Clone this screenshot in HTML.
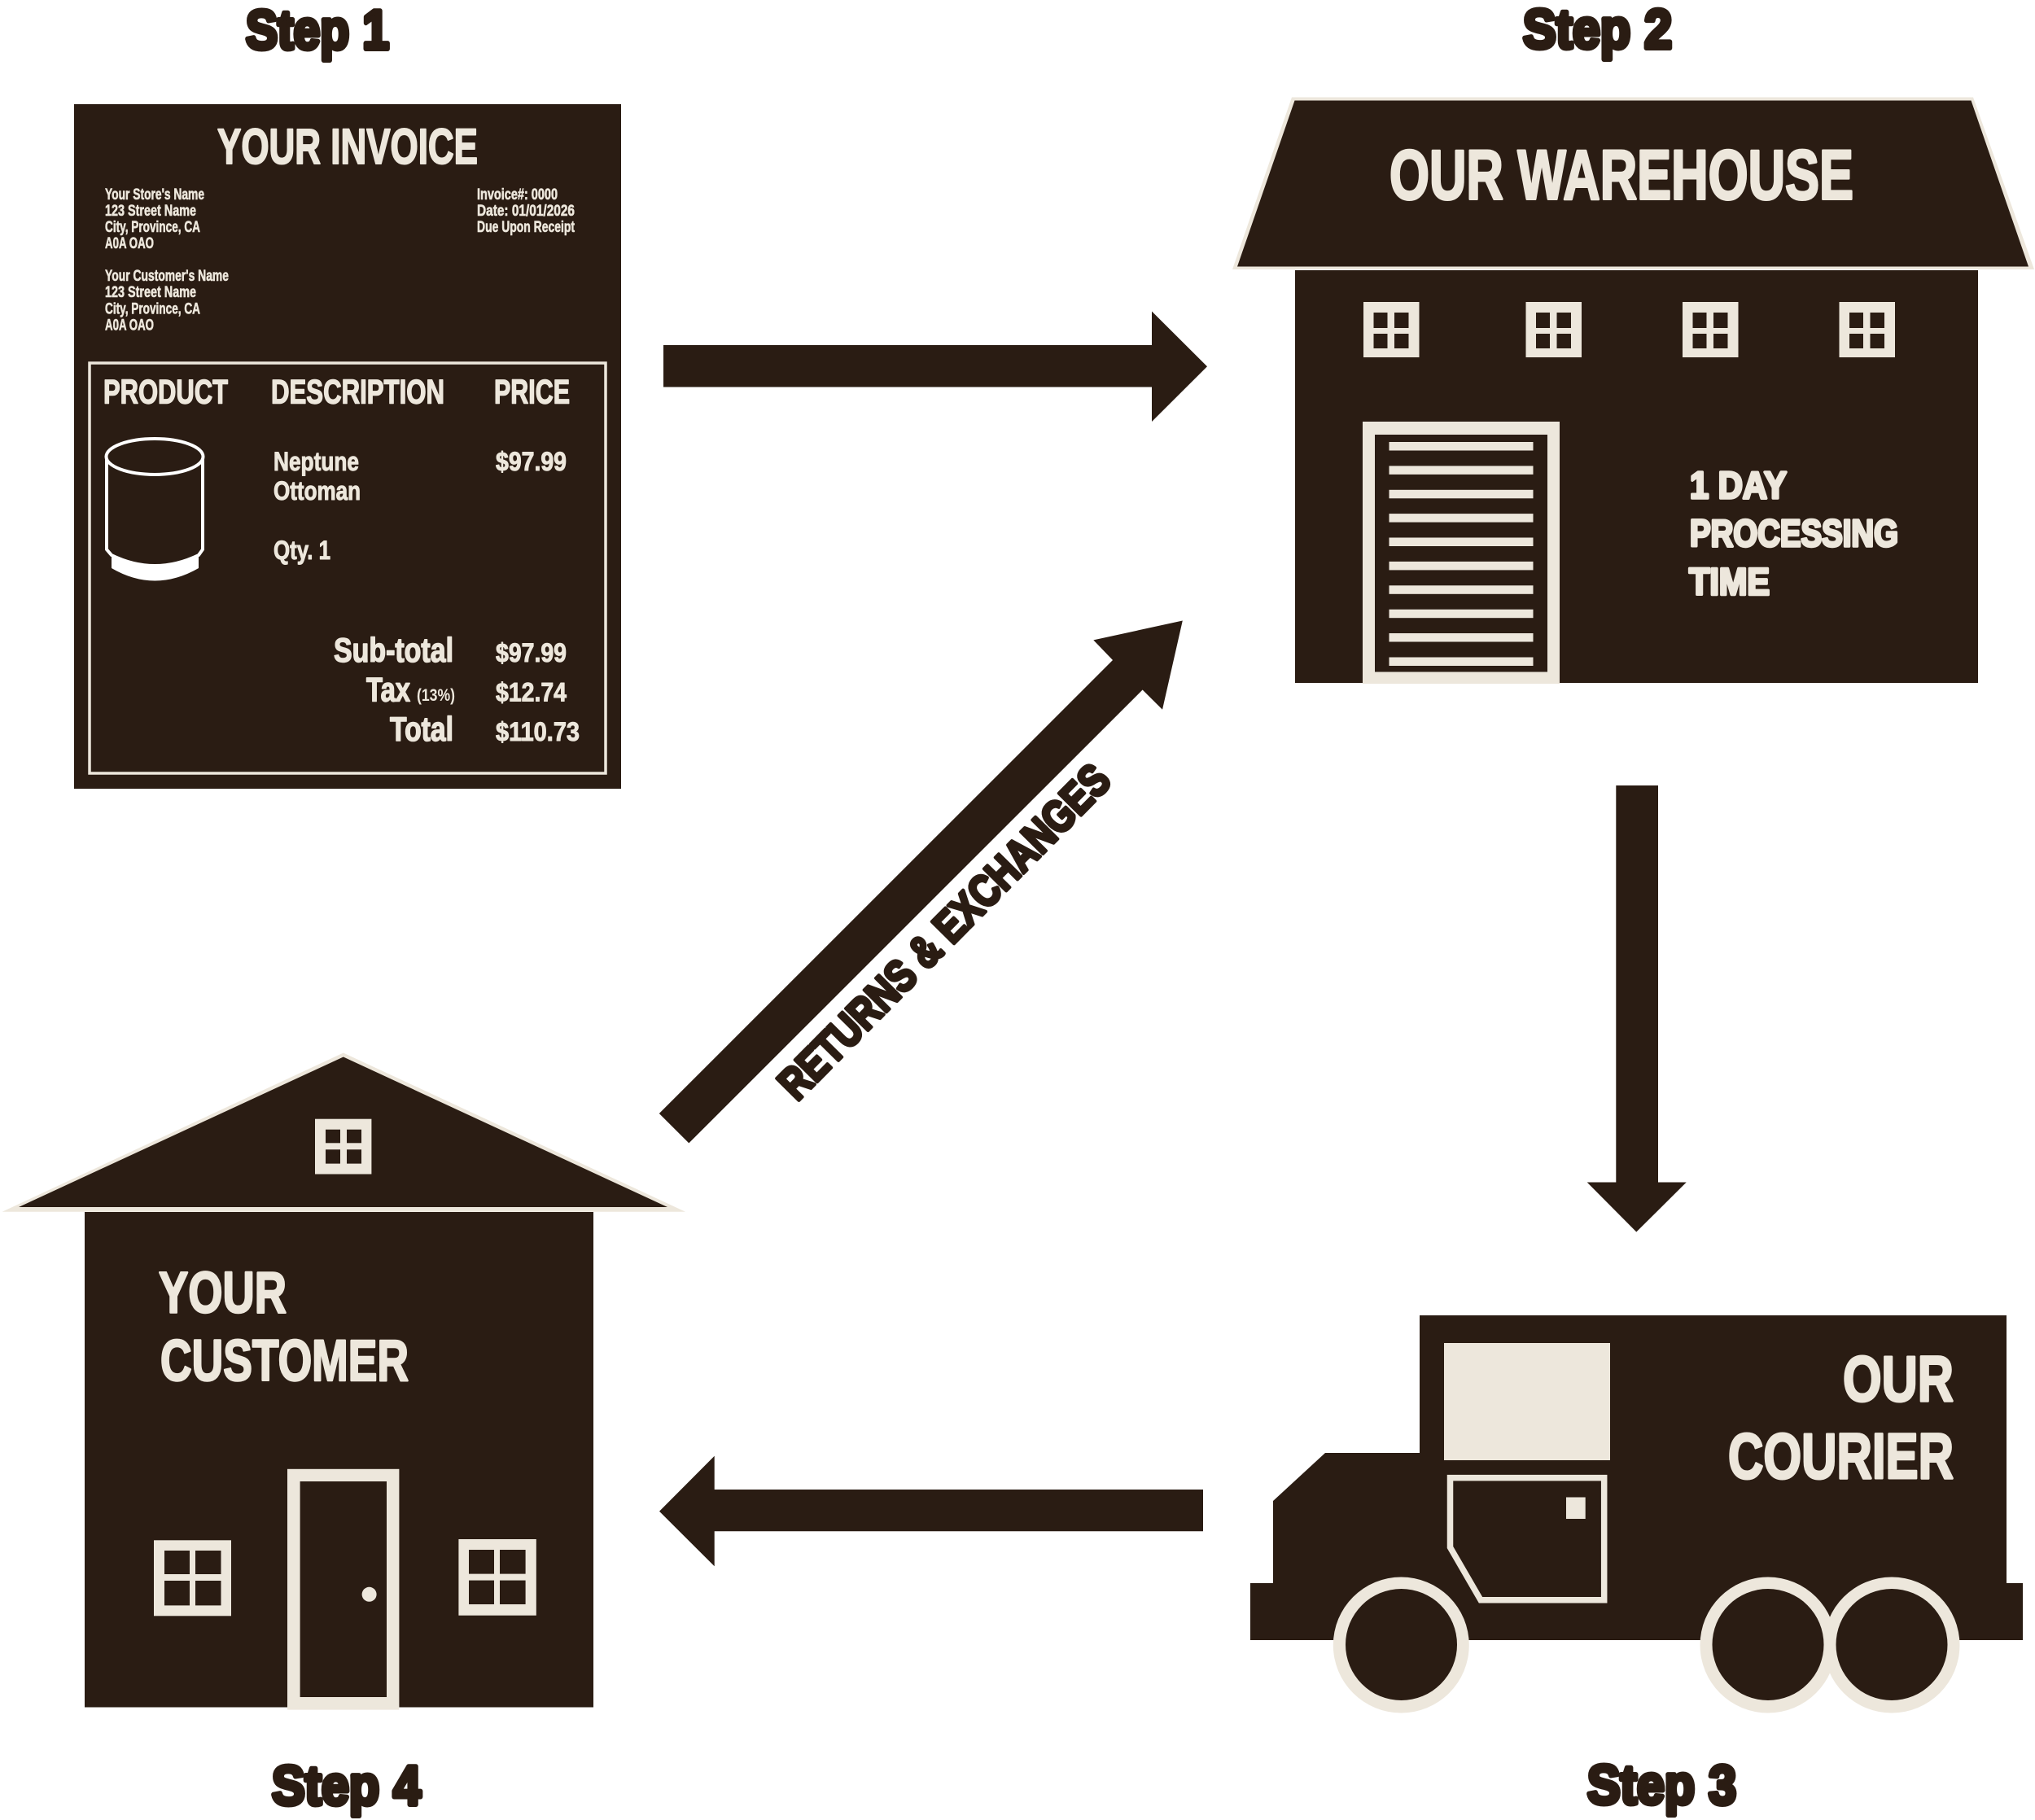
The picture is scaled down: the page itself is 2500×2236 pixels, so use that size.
<!DOCTYPE html>
<html>
<head>
<meta charset="utf-8">
<title>Order process diagram</title>
<style>
html,body{margin:0;padding:0;background:#fff;}
svg{display:block;}
text{font-family:"Liberation Sans",sans-serif;font-weight:700;}
.c{fill:#ede7dc;}
.d{fill:#2a1c13;}
.s{fill:#2a1c13;stroke:#2a1c13;stroke-width:6;stroke-linejoin:round;}
.t{fill:#ede7dc;stroke:#ede7dc;stroke-linejoin:round;}
</style>
</head>
<body>
<svg xmlns="http://www.w3.org/2000/svg" width="2500" height="2236" viewBox="0 0 2500 2236">
<rect width="2500" height="2236" fill="#fff"/>

<!-- Step labels -->
<text class="s" x="302" y="60" font-size="68" textLength="176" lengthAdjust="spacingAndGlyphs">Step 1</text>
<text class="s" x="1871" y="59" font-size="68" textLength="183" lengthAdjust="spacingAndGlyphs">Step 2</text>
<text class="s" x="1950" y="2216" font-size="68" textLength="183" lengthAdjust="spacingAndGlyphs">Step 3</text>
<text class="s" x="334" y="2217" font-size="68" textLength="183" lengthAdjust="spacingAndGlyphs">Step 4</text>

<!-- Invoice -->
<rect class="d" x="91" y="128" width="672" height="841"/>
<rect x="110" y="446" width="634" height="504" fill="none" stroke="#ede7dc" stroke-width="3.5"/>
<text class="t" stroke-width="2" x="267" y="201" font-size="61" textLength="320" lengthAdjust="spacingAndGlyphs">YOUR INVOICE</text>
<g class="t" stroke-width="0.6" font-size="19">
<text x="129" y="245" textLength="122" lengthAdjust="spacingAndGlyphs">Your Store's Name</text>
<text x="129" y="265" textLength="112" lengthAdjust="spacingAndGlyphs">123 Street Name</text>
<text x="129" y="285" textLength="117" lengthAdjust="spacingAndGlyphs">City, Province, CA</text>
<text x="129" y="305" textLength="60" lengthAdjust="spacingAndGlyphs">A0A OAO</text>
<text x="129" y="345" textLength="152" lengthAdjust="spacingAndGlyphs">Your Customer's Name</text>
<text x="129" y="365" textLength="112" lengthAdjust="spacingAndGlyphs">123 Street Name</text>
<text x="129" y="385.500" textLength="117" lengthAdjust="spacingAndGlyphs">City, Province, CA</text>
<text x="129" y="405.500" textLength="60" lengthAdjust="spacingAndGlyphs">A0A OAO</text>
<text x="586" y="245" textLength="99" lengthAdjust="spacingAndGlyphs">Invoice#: 0000</text>
<text x="586" y="265" textLength="120" lengthAdjust="spacingAndGlyphs">Date: 01/01/2026</text>
<text x="586" y="285" textLength="120" lengthAdjust="spacingAndGlyphs">Due Upon Receipt</text>
</g>
<g class="t" stroke-width="1.5" font-size="42">
<text x="127" y="495.500" textLength="153" lengthAdjust="spacingAndGlyphs">PRODUCT</text>
<text x="333" y="495.500" textLength="213" lengthAdjust="spacingAndGlyphs">DESCRIPTION</text>
<text x="607" y="495.500" textLength="93" lengthAdjust="spacingAndGlyphs">PRICE</text>
<text x="410" y="813" textLength="147" lengthAdjust="spacingAndGlyphs">Sub-total</text>
<text x="450" y="861.500" textLength="54" lengthAdjust="spacingAndGlyphs">Tax</text>
<text x="479" y="910" textLength="78" lengthAdjust="spacingAndGlyphs">Total</text>
</g>
<text class="c" x="512" y="861" font-size="21" textLength="47" lengthAdjust="spacingAndGlyphs">(13%)</text>
<g class="t" stroke-width="1" font-size="32">
<text x="336" y="578" textLength="105" lengthAdjust="spacingAndGlyphs">Neptune</text>
<text x="336" y="614" textLength="107" lengthAdjust="spacingAndGlyphs">Ottoman</text>
<text x="336" y="687" textLength="70" lengthAdjust="spacingAndGlyphs">Qty. 1</text>
<text x="609" y="578" textLength="87" lengthAdjust="spacingAndGlyphs">$97.99</text>
<text x="609" y="813" textLength="87" lengthAdjust="spacingAndGlyphs">$97.99</text>
<text x="609" y="861.500" textLength="87" lengthAdjust="spacingAndGlyphs">$12.74</text>
<text x="609" y="910" textLength="103" lengthAdjust="spacingAndGlyphs">$110.73</text>
</g>
<!-- Ottoman icon -->
<path d="M137 682 L137 698 Q190 729 244 698 L244 682 Q190 706 137 682 Z" fill="#fff"/>
<path d="M131 561 L131 675 L137 682 Q190 708 244 682 L249 675 L249 561" fill="#2a1c13" stroke="#fff" stroke-width="4"/>
<ellipse cx="190" cy="561" rx="59.500" ry="22" fill="#2a1c13" stroke="#fff" stroke-width="4"/>

<!-- Warehouse -->
<polygon class="c" points="1587,119.500 2424,119.500 2499,331 1514,331"/>
<polygon class="d" points="1590.500,123.500 2421.500,123.500 2492,327.500 1520,327.500"/>
<rect class="d" x="1591" y="332" width="839" height="507"/>
<text class="t" stroke-width="3" x="1707" y="244.500" font-size="86" textLength="570" lengthAdjust="spacingAndGlyphs">OUR WAREHOUSE</text>
<!-- warehouse windows -->
<g>
<rect class="c" x="1675" y="371" width="68.500" height="68"/>
<rect class="d" x="1687.500" y="384" width="17" height="19"/><rect class="d" x="1713" y="384" width="17.500" height="19"/>
<rect class="d" x="1687.500" y="410" width="17" height="18"/><rect class="d" x="1713" y="410" width="17.500" height="18"/>
</g>
<g transform="translate(199.500,0)">
<rect class="c" x="1675" y="371" width="68.500" height="68"/>
<rect class="d" x="1687.500" y="384" width="17" height="19"/><rect class="d" x="1713" y="384" width="17.500" height="19"/>
<rect class="d" x="1687.500" y="410" width="17" height="18"/><rect class="d" x="1713" y="410" width="17.500" height="18"/>
</g>
<g transform="translate(392,0)">
<rect class="c" x="1675" y="371" width="68.500" height="68"/>
<rect class="d" x="1687.500" y="384" width="17" height="19"/><rect class="d" x="1713" y="384" width="17.500" height="19"/>
<rect class="d" x="1687.500" y="410" width="17" height="18"/><rect class="d" x="1713" y="410" width="17.500" height="18"/>
</g>
<g transform="translate(584.500,0)">
<rect class="c" x="1675" y="371" width="68.500" height="68"/>
<rect class="d" x="1687.500" y="384" width="17" height="19"/><rect class="d" x="1713" y="384" width="17.500" height="19"/>
<rect class="d" x="1687.500" y="410" width="17" height="18"/><rect class="d" x="1713" y="410" width="17.500" height="18"/>
</g>
<!-- roll door -->
<rect class="c" x="1674" y="518" width="242" height="322"/>
<rect class="d" x="1689" y="534" width="212" height="291.500"/>
<g class="c">
<rect x="1706.500" y="543" width="177" height="10.500"/>
<rect x="1706.500" y="572.400" width="177" height="10.500"/>
<rect x="1706.500" y="601.800" width="177" height="10.500"/>
<rect x="1706.500" y="631.100" width="177" height="10.500"/>
<rect x="1706.500" y="660.500" width="177" height="10.500"/>
<rect x="1706.500" y="689.900" width="177" height="10.500"/>
<rect x="1706.500" y="719.300" width="177" height="10.500"/>
<rect x="1706.500" y="748.700" width="177" height="10.500"/>
<rect x="1706.500" y="778" width="177" height="10.500"/>
<rect x="1706.500" y="807.500" width="177" height="10.500"/>
</g>
<g class="t" stroke-width="3.5" font-size="46">
<text x="2076" y="612" textLength="119" lengthAdjust="spacingAndGlyphs">1 DAY</text>
<text x="2076" y="671" textLength="256" lengthAdjust="spacingAndGlyphs">PROCESSING</text>
<text x="2075" y="730.500" textLength="99" lengthAdjust="spacingAndGlyphs">TIME</text>
</g>

<!-- Arrows -->
<polygon class="d" points="815,424 1415,424 1415,382.500 1483,450.300 1415,518 1415,475.500 815,475.500"/>
<polygon class="d" points="1985.300,965 2037,965 2037,1452.500 2071.700,1452.500 2010.300,1513.500 1949.700,1452.500 1985.300,1452.500"/>
<polygon class="d" points="1478,1830 877.700,1830 877.700,1788.700 810,1856.700 877.700,1924.300 877.700,1881.300 1478,1881.300"/>
<polygon class="d" points="809.800,1368 1367,811 1343.300,786.400 1452.800,762.500 1428,871.800 1403.600,847.500 846.300,1404.400"/>
<text class="s" transform="translate(979,1354) rotate(-45.300)" x="0" y="0" font-size="55" textLength="552" lengthAdjust="spacingAndGlyphs" style="stroke-width:4.500">RETURNS &amp; EXCHANGES</text>

<!-- Truck -->
<polygon class="d" points="1744,1616 2465,1616 2465,1945 2485,1945 2485,2015 1536,2015 1536,1945 1564,1945 1564,1844 1628,1785 1744,1785"/>
<rect class="c" x="1774" y="1650" width="204" height="144"/>
<polygon points="1781.500,1815.600 1970.700,1815.600 1970.700,1965.800 1819,1965.800 1781.500,1901" fill="none" stroke="#ede7dc" stroke-width="7.500"/>
<rect class="c" x="1924" y="1839.500" width="23.700" height="26.500"/>
<circle class="c" cx="1721.300" cy="2021" r="83.500"/>
<circle class="c" cx="2172" cy="2021" r="83.500"/>
<circle class="c" cx="2324" cy="2021" r="83.500"/>
<circle class="d" cx="1721.500" cy="2020.500" r="68.500"/>
<circle class="d" cx="2172" cy="2020.500" r="68.500"/>
<circle class="d" cx="2324" cy="2020.500" r="68.500"/>
<g class="t" stroke-width="3" font-size="79">
<text x="2264" y="1721" textLength="136" lengthAdjust="spacingAndGlyphs">OUR</text>
<text x="2123" y="1816" textLength="277" lengthAdjust="spacingAndGlyphs">COURIER</text>
</g>

<!-- Customer house -->
<polygon class="c" points="421.800,1293.500 842,1488.700 2.700,1488.700"/>
<polygon class="d" points="421.800,1298.500 820,1483 23,1483"/>
<rect class="d" x="104" y="1489" width="625" height="608.500"/>
<rect class="c" x="387" y="1374.700" width="69.400" height="67.800"/>
<rect class="d" x="400" y="1387.700" width="18" height="16.600"/><rect class="d" x="426" y="1387.700" width="18" height="16.600"/>
<rect class="d" x="400" y="1412.300" width="18" height="17.300"/><rect class="d" x="426" y="1412.300" width="18" height="17.300"/>
<rect class="c" x="353" y="1804.800" width="137.400" height="295.800"/>
<rect class="d" x="368.600" y="1820" width="106.400" height="265"/>
<circle class="c" cx="453.600" cy="1958.800" r="9"/>
<rect class="c" x="189" y="1892.300" width="95" height="93"/>
<rect class="d" x="202" y="1905" width="31" height="29"/><rect class="d" x="240" y="1905" width="31.500" height="29"/>
<rect class="d" x="202" y="1942" width="31" height="30.400"/><rect class="d" x="240" y="1942" width="31.500" height="30.400"/>
<rect class="c" x="563.400" y="1891" width="95.400" height="93.700"/>
<rect class="d" x="576" y="1904" width="31" height="29.600"/><rect class="d" x="614" y="1904" width="31.600" height="29.600"/>
<rect class="d" x="576" y="1941.600" width="31" height="29.400"/><rect class="d" x="614" y="1941.600" width="31.600" height="29.400"/>
<g class="t" stroke-width="2.500" font-size="71">
<text x="195" y="1612.500" textLength="157" lengthAdjust="spacingAndGlyphs">YOUR</text>
<text x="197" y="1696" textLength="305" lengthAdjust="spacingAndGlyphs">CUSTOMER</text>
</g>
</svg>
</body>
</html>
